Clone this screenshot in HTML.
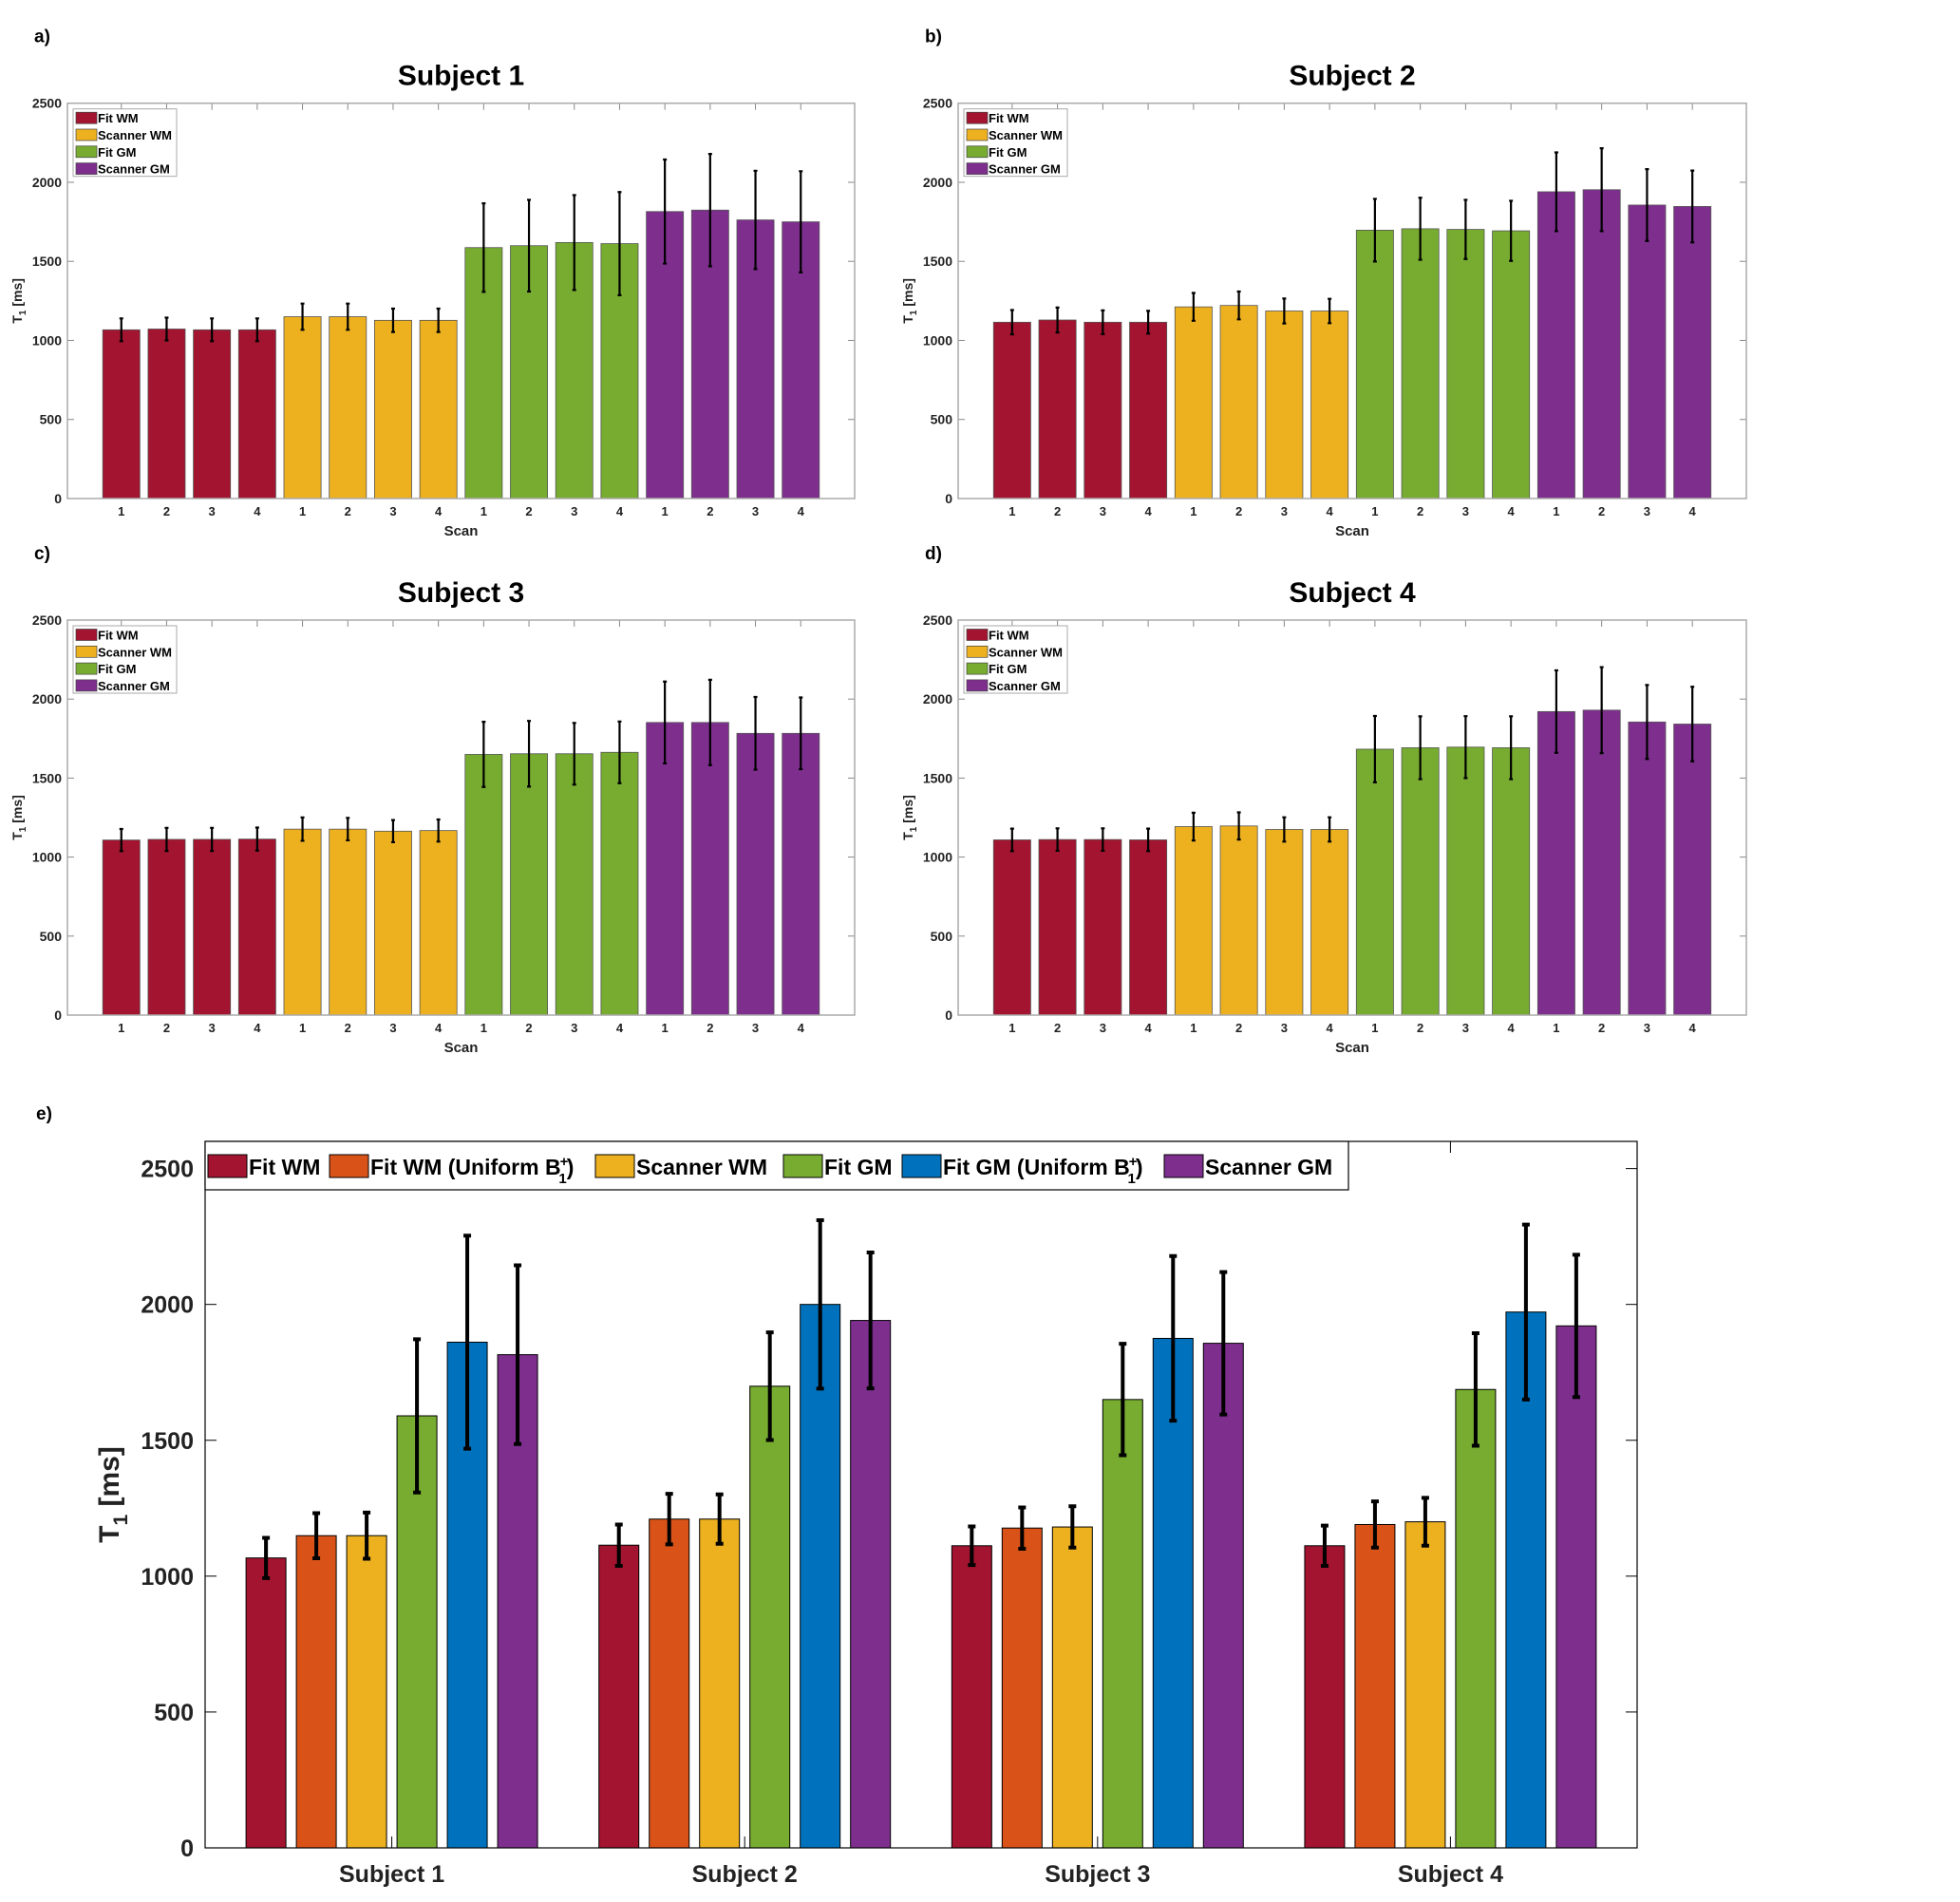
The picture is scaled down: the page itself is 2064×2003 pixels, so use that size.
<!DOCTYPE html>
<html><head><meta charset="utf-8"><style>
html,body{margin:0;padding:0;background:#fff}
svg{display:block}
text{font-family:"Liberation Sans",sans-serif}
</style></head><body>
<svg id="fig" width="2064" height="2003" viewBox="0 0 2064 2003" xmlns="http://www.w3.org/2000/svg"></svg>
<script>
// ---- data: panels a-d (per subject, 16 scans: FitWM x4, ScannerWM x4, FitGM x4, ScannerGM x4)
const scanLabels = ["1","2","3","4","1","2","3","4","1","2","3","4","1","2","3","4"];
const yTicksSmall = [0,500,1000,1500,2000,2500];
const s1Means = [1067,1072,1067,1067,1150,1150,1127,1127,1587,1599,1619,1612,1815,1824,1762,1750];
const s1Errs  = [72,72,72,72,83,83,74,74,280,290,300,326,329,355,311,320];
const s2Means = [1115,1129,1115,1115,1212,1221,1186,1186,1697,1706,1702,1693,1940,1953,1856,1847];
const s2Errs  = [77,79,75,72,88,88,79,77,198,196,187,190,249,262,227,227];
const s3Means = [1108,1112,1112,1114,1177,1177,1164,1168,1650,1654,1654,1663,1852,1852,1783,1783];
const s3Errs  = [70,73,73,73,74,71,70,70,206,208,195,195,259,270,230,227];
const s4Means = [1109,1111,1111,1109,1193,1197,1175,1175,1683,1692,1696,1692,1921,1930,1855,1842];
const s4Errs  = [71,71,71,71,88,86,77,77,210,199,196,199,261,272,234,236];
const groupNames = ["Fit WM","Scanner WM","Fit GM","Scanner GM"];
// ---- data: panel e
const subjects = ["Subject 1","Subject 2","Subject 3","Subject 4"];
const seriesE = ["Fit WM","Fit WM (Uniform B1+)","Scanner WM","Fit GM","Fit GM (Uniform B1+)","Scanner GM"];
const eFitWM   = [1067,1114,1112,1112];
const eFitWMU  = [1149,1210,1177,1190];
const eScanWM  = [1149,1210,1181,1200];
const eFitGM   = [1590,1699,1650,1687];
const eFitGMU  = [1861,2000,1875,1972];
const eScanGM  = [1815,1941,1857,1921];
const eFitWMErr  = [74,76,71,74];
const eFitWMUErr = [83,93,76,85];
const eScanWMErr = [85,91,76,88];
const eFitGMErr  = [282,198,205,207];
const eFitGMUErr = [392,310,303,322];
const eScanGMErr = [329,250,262,262];
const yTicksE = [0,500,1000,1500,2000,2500];

const NS="http://www.w3.org/2000/svg";
const svg=document.getElementById('fig');
function mk(tag,attrs,parent,txt){const e=document.createElementNS(NS,tag);for(const k in attrs)e.setAttribute(k,attrs[k]);if(txt!==undefined)e.textContent=txt;(parent||svg).appendChild(e);return e;}
const smallColors=["#A2142F","#EDB120","#77AC30","#7E2F8E"];
const eColors=["#A2142F","#D95319","#EDB120","#77AC30","#0072BD","#7E2F8E"];

function smallPanel(letter,title,means,errs,L,R,T,B){
  const g=mk('g',{});
  
  
  const xmin=-0.19,xmax=17.19,ymax=2500;
  const X=v=>L+(v-xmin)/(xmax-xmin)*(R-L);
  const Y=v=>B-v/ymax*(B-T);
  const lt=mk('text',{x:L-35,y:T-64,'font-size':19,'font-weight':'bold'},g,letter+')');
  
  
  const tt=mk('text',{x:(L+R)/2,y:T-19,'font-size':30,'font-weight':'bold','text-anchor':'middle'},g,title);
  
  
  means.forEach((m,i)=>{
    const c=smallColors[Math.floor(i/4)];
    const w=0.82;
    const r=mk('rect',{x:X(i+1-w/2),y:Y(m),width:X(i+1+w/2)-X(i+1-w/2),height:Y(0)-Y(m),fill:c,stroke:'#555','stroke-width':0.8},g);
    
    
    const e=errs[i],cx=X(i+1);
    const eb=mk('path',{d:`M${cx},${Y(m-e)}V${Y(m+e)}M${cx-2},${Y(m-e)}H${cx+2}M${cx-2},${Y(m+e)}H${cx+2}`,stroke:'#000','stroke-width':2.2,fill:'none'},g);
    
    
    mk('line',{x1:cx,x2:cx,y1:T,y2:T+7,stroke:'#888','stroke-width':1},g);
    const tl=mk('text',{x:cx,y:B+18,'font-size':13,'font-weight':'bold','text-anchor':'middle',fill:'#222'},g,scanLabels[i]);
    
    
  });
  yTicksSmall.forEach(v=>{
    mk('line',{x1:L,x2:L+7,y1:Y(v),y2:Y(v),stroke:'#888'},g);
    mk('line',{x1:R,x2:R-7,y1:Y(v),y2:Y(v),stroke:'#888'},g);
    const yl=mk('text',{x:L-6,y:Y(v)+5,'font-size':14,'font-weight':'bold','text-anchor':'end',fill:'#222'},g,String(v));
    
    
  });
  const box=mk('rect',{x:L,y:T,width:R-L,height:B-T,fill:'none',stroke:'#aaa','stroke-width':1.5},g);
  
  
  const xt=mk('text',{x:(L+R)/2,y:B+39,'font-size':15,'font-weight':'bold','text-anchor':'middle',fill:'#222'},g,'Scan');
  
  
  const yt=mk('text',{transform:`translate(${L-48},${(T+B)/2}) rotate(-90)`,'font-size':14,'font-weight':'bold','text-anchor':'middle',fill:'#222'},g);
  
  
  mk('tspan',{},yt,'T');mk('tspan',{dy:4,'font-size':10},yt,'1');mk('tspan',{dy:-4},yt,' [ms]');
  const lg=mk('g',{},g);
  
  
  mk('rect',{x:L+6,y:T+6,width:109,height:71,fill:'#fff',stroke:'#aaa'},lg);
  groupNames.forEach((n,k)=>{
    const yy=T+15.5+k*17.8;
    const s=mk('rect',{x:L+9,y:yy-6,width:22,height:12,fill:smallColors[k],stroke:'#444','stroke-width':0.7},lg);
    
    
    const t=mk('text',{x:L+32,y:yy+5,'font-size':13,'font-weight':'bold'},lg,n);
    
    
  });
}
smallPanel('a','Subject 1',s1Means,s1Errs,71,900,108.7,525);
smallPanel('b','Subject 2',s2Means,s2Errs,1009,1839,108.7,525);
smallPanel('c','Subject 3',s3Means,s3Errs,71,900,653,1069);
smallPanel('d','Subject 4',s4Means,s4Errs,1009,1839,653,1069);

// ---- panel e
(function(){
  const L=216,R=1724,T=1202,B=1946;
  const xmin=0.471,xmax=4.529,ymax=2600;
  const X=v=>L+(v-xmin)/(xmax-xmin)*(R-L);
  const Y=v=>B-v/ymax*(B-T);
  const g=mk('g',{});
  
  
  const lt=mk('text',{x:38,y:1179,'font-size':19,'font-weight':'bold'},g,'e)');
  
  
  const vals=[eFitWM,eFitWMU,eScanWM,eFitGM,eFitGMU,eScanGM];
  const errsE=[eFitWMErr,eFitWMUErr,eScanWMErr,eFitGMErr,eFitGMUErr,eScanGMErr];
  const step=0.1426,w=0.113;
  subjects.forEach((s,j)=>{
    const c=j+1;
    vals.forEach((arr,k)=>{
      const xc=c+(k-2.5)*step,m=arr[j],e=errsE[k][j];
      const r=mk('rect',{x:X(xc-w/2),y:Y(m),width:X(xc+w/2)-X(xc-w/2),height:Y(0)-Y(m),fill:eColors[k],stroke:'#000','stroke-width':1},g);
      
      
      const cx=X(xc);
      const eb=mk('path',{d:`M${cx},${Y(m-e)}V${Y(m+e)}M${cx-4},${Y(m-e)}H${cx+4}M${cx-4},${Y(m+e)}H${cx+4}`,stroke:'#000','stroke-width':4,fill:'none'},g);
      
      
    });
    mk('line',{x1:X(c),x2:X(c),y1:B,y2:B-12,stroke:'#000'},g);
    mk('line',{x1:X(c),x2:X(c),y1:T,y2:T+12,stroke:'#000'},g);
    const tl=mk('text',{x:X(c),y:B+36,'font-size':25,'font-weight':'bold','text-anchor':'middle',fill:'#222'},g,s);
    
    
  });
  yTicksE.forEach(v=>{
    mk('line',{x1:L,x2:L+12,y1:Y(v),y2:Y(v),stroke:'#000'},g);
    mk('line',{x1:R,x2:R-12,y1:Y(v),y2:Y(v),stroke:'#000'},g);
    const yl=mk('text',{x:L-12,y:Y(v)+9,'font-size':25,'font-weight':'bold','text-anchor':'end',fill:'#222'},g,String(v));
    
    
  });
  const box=mk('rect',{x:L,y:T,width:R-L,height:B-T,fill:'none',stroke:'#000','stroke-width':1.2},g);
  
  
  const yt=mk('text',{transform:`translate(${125},${(T+B)/2}) rotate(-90)`,'font-size':30,'font-weight':'bold','text-anchor':'middle',fill:'#222'},g);
  
  
  mk('tspan',{},yt,'T');mk('tspan',{dy:9,'font-size':21},yt,'1');mk('tspan',{dy:-9},yt,' [ms]');
  const lg=mk('g',{},g);
  
  
  mk('rect',{x:L,y:T,width:1204,height:51,fill:'#fff',stroke:'#000','stroke-width':1.2},lg);
  const sx=[219,347,627,825,950,1226];
  seriesE.forEach((n,k)=>{
    const s=mk('rect',{x:sx[k],y:1216,width:41,height:24,fill:eColors[k],stroke:'#000'},lg);
    
    
    const t=mk('text',{x:sx[k]+43,y:1237,'font-size':23,'font-weight':'bold'},lg);
    
    
    if(n.indexOf('Uniform')>=0){
      const base=n.replace(' (Uniform B1+)','');
      mk('tspan',{},t,base+' (Uniform B');
      mk('tspan',{dy:-9,'font-size':15,dx:-1},t,'+');
      mk('tspan',{dy:18,dx:-10,'font-size':15},t,'1');
      mk('tspan',{dy:-9},t,')');
    } else t.textContent=n;
  });
})();
</script>
</body></html>
